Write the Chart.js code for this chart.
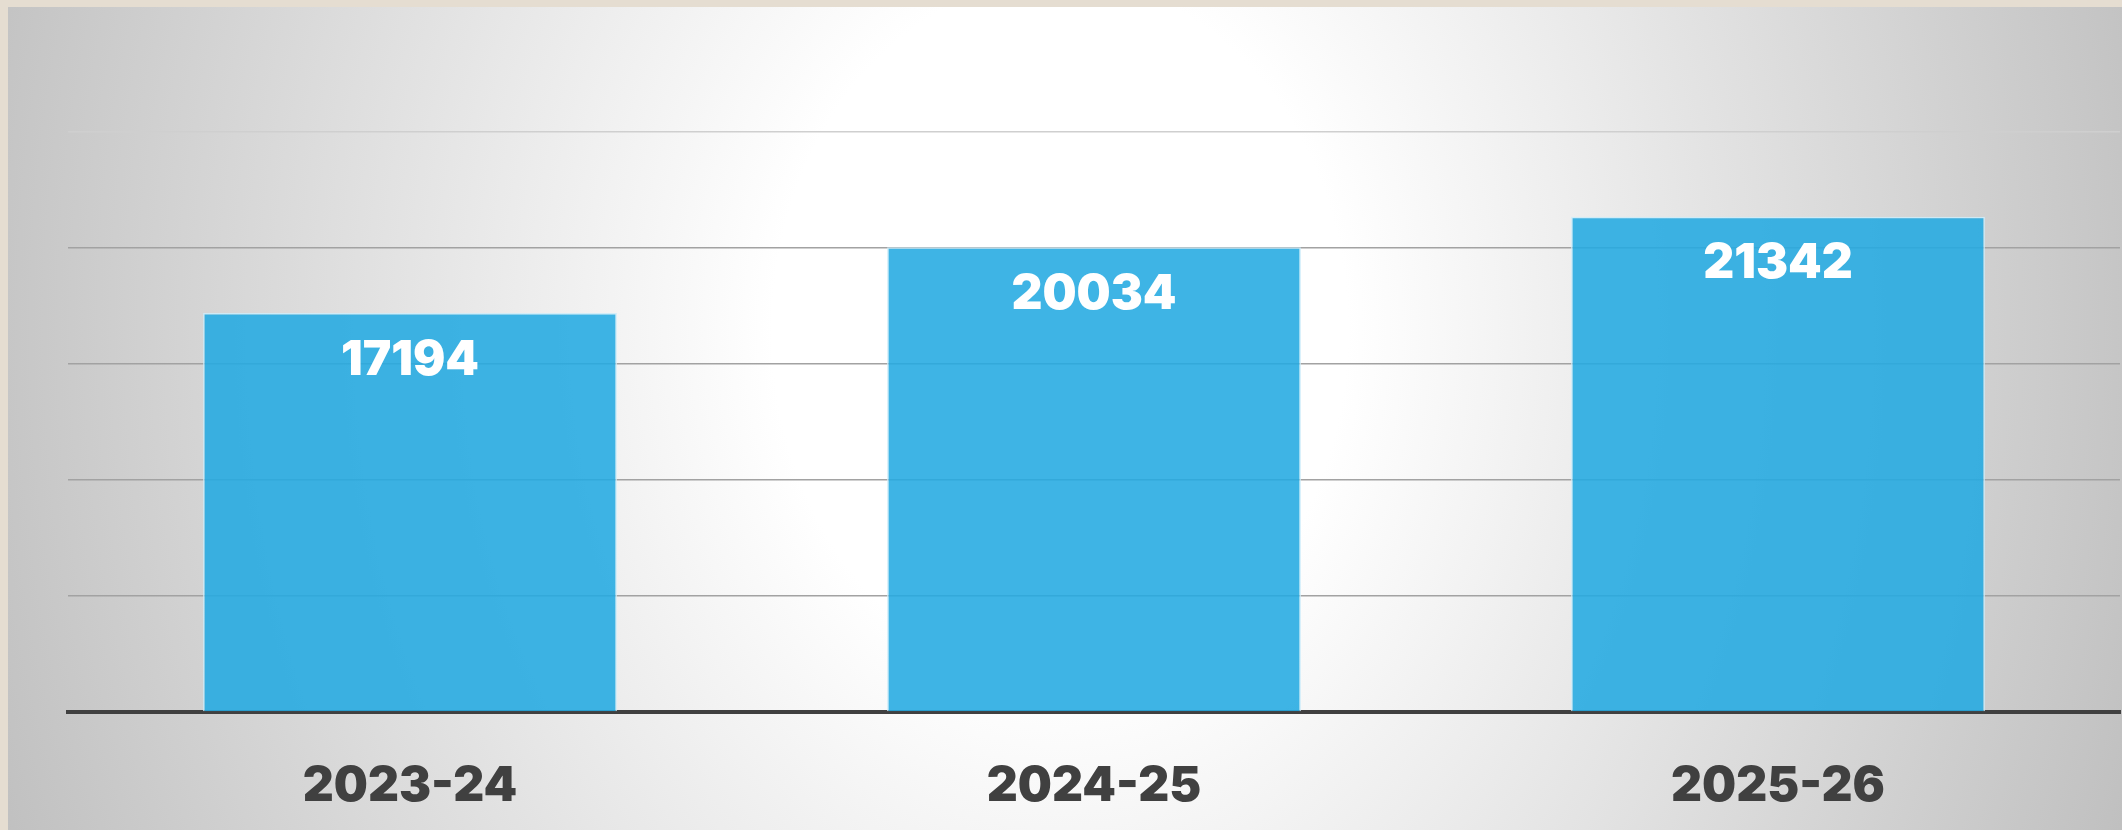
<!DOCTYPE html>
<html>
<head>
<meta charset="utf-8">
<script src="https://cdn.jsdelivr.net/npm/chart.js@4.4.1/dist/chart.umd.min.js"></script>
<style>
  html, body { margin: 0; padding: 0; }
  body { width: 2122px; height: 830px; background: #e5ddd1; position: relative; overflow: hidden; }
  #panel {
    position: absolute; left: 8px; top: 7px; right: 0; bottom: 0;
    background: radial-gradient(ellipse 1150px 1400px at 1052px 323px, #ffffff 0%, #ffffff 25%, #bfbfbf 100%);
  }
  #wrap { position: absolute; left: 0; top: 0; width: 2122px; height: 830px; }
</style>
</head>
<body>
<div id="panel"></div>
<div id="wrap"><canvas id="chart"></canvas></div>
<script>
const years = ['2023-24', '2024-25', '2025-26'];
const totals = [17194, 20034, 21342];
const yTicks = [0, 5000, 10000, 15000, 20000, 25000];

const fontFamily = 'Inter, "Liberation Sans", Arial, sans-serif';

// white value labels inside the top of each bar
const barLabels = {
    id: 'barLabels',
    afterDatasetsDraw(chart) {
        const ctx = chart.ctx;
        const meta = chart.getDatasetMeta(0);
        ctx.save();
        ctx.fillStyle = '#ffffff';
        ctx.font = '900 48px ' + fontFamily;
        ctx.textAlign = 'center';
        ctx.textBaseline = 'middle';
        meta.data.forEach((bar, i) => {
            ctx.fillText(String(totals[i]), bar.x, bar.y + 47);
        });
        ctx.restore();
    }
};

const ctx = document.getElementById('chart').getContext('2d');
new Chart(ctx, {
    type: 'bar',
    data: {
        labels: years,
        datasets: [{
            data: totals,
            backgroundColor: 'rgba(35, 170, 225, 0.88)',
            borderColor: 'rgba(205, 236, 250, 0.9)',
            borderWidth: 1.5,
            barPercentage: 0.605,
            categoryPercentage: 1
        }]
    },
    options: {
        responsive: true,
        maintainAspectRatio: false,
        animation: false,
        layout: { padding: { left: 68, right: 2, top: 132, bottom: 0 } },
        plugins: { legend: { display: false }, tooltip: { enabled: false } },
        scales: {
            x: {
                afterFit: axis => { axis.height = 118; },
                grid: { display: false, drawTicks: false },
                border: { color: '#404040', width: 4 },
                ticks: {
                    color: '#404040',
                    padding: 46,
                    font: { family: fontFamily, size: 48, weight: 900 }
                }
            },
            y: {
                min: yTicks[0],
                max: yTicks[yTicks.length - 1],
                afterBuildTicks: axis => { axis.ticks = yTicks.map(v => ({ value: v })); },
                ticks: { display: false },
                border: { display: false },
                grid: {
                    drawTicks: false,
                    lineWidth: 1.5,
                    color: c => c.tick.value === 0 ? 'rgba(0,0,0,0)' :
                        (c.tick.value === 25000 ? '#cfcfcf' : '#a2a2a2')
                }
            }
        }
    },
    plugins: [barLabels]
});
</script>
</body>
</html>
